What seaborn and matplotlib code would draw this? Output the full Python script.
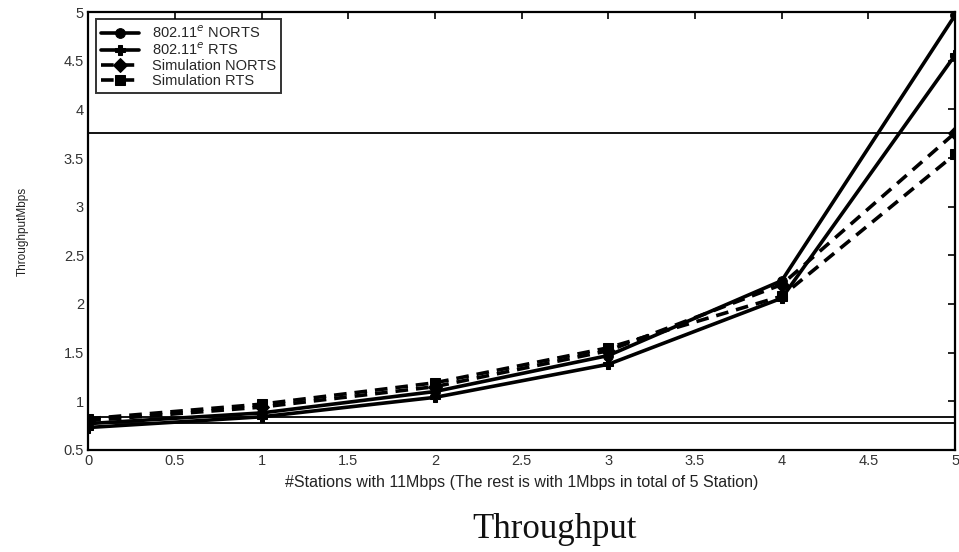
import matplotlib
matplotlib.use("Agg")
from matplotlib import pyplot as plt
import seaborn as sns
import pandas as pd

stations = [0, 1, 2, 3, 4, 5]
norts_80211 = [0.77, 0.88, 1.10, 1.47, 2.24, 4.97]
rts_80211 = [0.73, 0.84, 1.04, 1.38, 2.06, 4.56]
sim_norts = [0.80, 0.94, 1.15, 1.52, 2.20, 3.76]
sim_rts = [0.82, 0.97, 1.19, 1.55, 2.08, 3.54]
series_names = ['802.11$^{e}$ NORTS', '802.11$^{e}$ RTS', 'Simulation NORTS', 'Simulation RTS']
ref_levels = [3.76, 0.835, 0.775]

sns.set_style("white")
plt.rcParams['font.family'] = ['Liberation Sans', 'DejaVu Sans']

df = pd.DataFrame({
    'x': stations * 4,
    'y': norts_80211 + rts_80211 + sim_norts + sim_rts,
    'series': sum([[n] * len(stations) for n in series_names], []),
})

fig = plt.figure(figsize=(9.59, 5.52), dpi=100)
ax = fig.add_axes([0.092, 0.185, 0.904, 0.793])

for lvl in ref_levels:
    ax.axhline(lvl, color='black', lw=1.3, zorder=1)

sns.lineplot(data=df, x='x', y='y', hue='series', style='series', ax=ax,
             palette=['black'] * 4,
             dashes={series_names[0]: '', series_names[1]: '',
                     series_names[2]: (3.5, 2.2), series_names[3]: (3.5, 2.2)},
             markers={series_names[0]: 'o', series_names[1]: 'P',
                      series_names[2]: 'D', series_names[3]: 's'},
             markersize=7, markeredgecolor='black', lw=2.6, zorder=3)

ax.set_xlim(0, 5)
ax.set_ylim(0.5, 5)
ax.set_xticks([0, 0.5, 1, 1.5, 2, 2.5, 3, 3.5, 4, 4.5, 5])
ax.set_xticklabels(['0', '0.5', '1', '1.5', '2', '2.5', '3', '3.5', '4', '4.5', '5'])
ax.set_yticks([0.5, 1, 1.5, 2, 2.5, 3, 3.5, 4, 4.5, 5])
ax.set_yticklabels(['0.5', '1', '1.5', '2', '2.5', '3', '3.5', '4', '4.5', '5'])
ax.tick_params(direction='in', length=5, width=1.2, labelsize=10.5, colors='black',
               labelcolor='#333333', top=True, right=True, pad=3)
for s in ax.spines.values():
    s.set_linewidth(1.6)
    s.set_color('black')

ax.set_xlabel('#Stations with 11Mbps (The rest is with 1Mbps in total of 5 Station)',
              fontsize=11.5, labelpad=5, color='#222222')
ax.set_ylabel('ThroughputMbps', fontsize=8.5, labelpad=25, color='#222222')

leg = ax.legend(loc='upper left', fontsize=10.5, frameon=True, fancybox=False,
                edgecolor='black', borderpad=0.35, labelspacing=0.05,
                handlelength=2.6, handletextpad=0.9, borderaxespad=0.5)
leg.get_frame().set_linewidth(1.4)

fig.text(0.578, 0.026, 'Throughput', ha='center', fontsize=25,
         family=['Liberation Serif', 'DejaVu Serif'], color='#111111')

plt.savefig("out.png", dpi=100)
